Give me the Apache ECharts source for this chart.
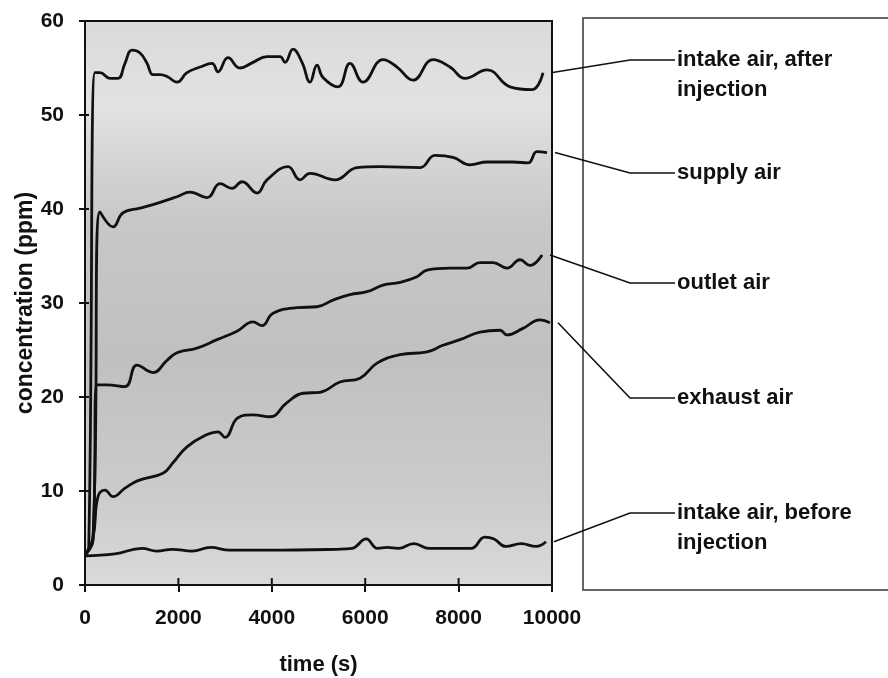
<!DOCTYPE html>
<html>
<head>
<meta charset="utf-8">
<script src="https://cdn.jsdelivr.net/npm/echarts@6/dist/echarts.min.js"></script>
<style>
  html, body { margin: 0; padding: 0; background: #ffffff; }
  #chart { width: 888px; height: 678px; }
</style>
</head>
<body>
<div id="chart"></div>
<script>
// ---- data (time in s, concentration in ppm) ----
const xTicks = [0, 2000, 4000, 6000, 8000, 10000];
const yTicks = [0, 10, 20, 30, 40, 50, 60];

const seriesNames = [
  'intake air, after\ninjection',
  'supply air',
  'outlet air',
  'exhaust air',
  'intake air, before\ninjection'
];

const intakeAfterT = [0, 80, 214, 321, 535, 707, 856, 1006, 1178, 1328, 1456, 1606, 1756, 1970, 2184, 2463, 2720, 2848, 3062, 3319, 3597, 3897, 4175, 4283, 4454, 4647, 4818, 4968, 5096, 5418, 5675, 5953, 6381, 6681, 7024, 7452, 7816, 8137, 8608, 9101, 9572, 9807];
const intakeAfterV = [3.2, 4.0, 54.5, 54.5, 53.9, 53.9, 55.5, 56.9, 56.6, 55.5, 54.3, 54.3, 54.1, 53.5, 54.5, 55.1, 55.5, 54.6, 56.1, 55.0, 55.6, 56.2, 56.2, 55.6, 57.0, 55.6, 53.5, 55.3, 54.0, 53.0, 55.5, 53.5, 55.9, 55.1, 53.7, 55.9, 55.1, 53.9, 54.8, 53.0, 52.7, 54.5];

const supplyT = [0, 170, 321, 600, 814, 1178, 1542, 1970, 2248, 2612, 2891, 3148, 3362, 3683, 3897, 4347, 4604, 4818, 5353, 5824, 6317, 7173, 7495, 7880, 8244, 8608, 9165, 9486, 9679, 9893];
const supplyV = [3.2, 4.8, 39.7, 38.1, 39.6, 40.1, 40.6, 41.3, 41.8, 41.2, 42.7, 42.2, 42.9, 41.7, 43.1, 44.5, 43.1, 43.8, 43.1, 44.4, 44.5, 44.4, 45.7, 45.5, 44.7, 45.0, 45.0, 44.9, 46.1, 46.0];

const outletT = [0, 170, 257, 471, 856, 1113, 1456, 1756, 1970, 2398, 2827, 3255, 3597, 3790, 4026, 4540, 4968, 5310, 5675, 6039, 6381, 6745, 7109, 7323, 7816, 8180, 8458, 8737, 9036, 9315, 9529, 9786];
const outletV = [3.2, 4.8, 21.3, 21.3, 21.1, 23.4, 22.6, 23.9, 24.7, 25.2, 26.1, 27.0, 28.0, 27.6, 28.9, 29.5, 29.6, 30.3, 30.9, 31.2, 31.9, 32.2, 32.8, 33.5, 33.7, 33.7, 34.3, 34.3, 33.7, 34.6, 34.0, 35.1];

const exhaustT = [0, 170, 278, 428, 600, 856, 1135, 1670, 1884, 2184, 2612, 2848, 2998, 3276, 3597, 3961, 4325, 4668, 5032, 5460, 5889, 6253, 6745, 7323, 7666, 8030, 8458, 8887, 9036, 9379, 9743, 9957];
const exhaustV = [3.2, 5.0, 9.4, 10.1, 9.4, 10.3, 11.1, 11.9, 13.0, 14.7, 16.0, 16.3, 15.7, 17.8, 18.1, 17.9, 19.4, 20.4, 20.5, 21.6, 22.0, 23.6, 24.5, 24.8, 25.5, 26.1, 26.9, 27.1, 26.6, 27.3, 28.2, 27.9];

const intakeBeforeT = [0, 640, 1220, 1540, 1870, 2290, 2690, 3100, 3920, 5400, 5720, 6020, 6260, 6470, 6710, 7040, 7370, 8270, 8560, 8760, 9010, 9340, 9660, 9870];
const intakeBeforeV = [3.1, 3.3, 3.9, 3.6, 3.8, 3.6, 4.0, 3.7, 3.7, 3.8, 3.9, 4.9, 3.9, 4.0, 3.9, 4.4, 3.9, 3.9, 5.1, 4.9, 4.1, 4.4, 4.1, 4.6];

const seriesT = [intakeAfterT, supplyT, outletT, exhaustT, intakeBeforeT];
const seriesV = [intakeAfterV, supplyV, outletV, exhaustV, intakeBeforeV];

// ---- layout / style ----
const FONT = '"Liberation Sans", Arial, sans-serif';
const INK = '#111111';
const labelX = 677;
const elbowX = 630;
const labelY = [60, 173, 283, 398, 513];

function pairs(t, v) { return t.map((x, i) => [x, v[i]]); }

const chart = echarts.init(document.getElementById('chart'), null, { renderer: 'canvas' });

const baseAxisLabel = { color: INK, fontFamily: FONT, fontWeight: 'bold', fontSize: 21, formatter: (val) => String(val) };

const option = {
  animation: false,
  backgroundColor: '#ffffff',
  grid: {
    left: 85, right: 336, top: 21, bottom: 93,
    containLabel: false,
    outerBoundsMode: 'none',
    show: true,
    borderColor: INK,
    borderWidth: 2,
    backgroundColor: {
      type: 'linear', x: 0, y: 0, x2: 0, y2: 1,
      colorStops: [
        { offset: 0, color: '#dadada' },
        { offset: 0.15, color: '#e2e2e2' },
        { offset: 0.35, color: '#c8c8c8' },
        { offset: 0.6, color: '#c0c0c0' },
        { offset: 0.85, color: '#cccccc' },
        { offset: 1, color: '#dadada' }
      ]
    }
  },
  xAxis: {
    type: 'value', min: xTicks[0], max: xTicks[xTicks.length - 1], interval: 2000,
    position: 'bottom',
    name: 'time (s)', nameLocation: 'middle', nameGap: 69, nameMoveOverlap: false,
    nameTextStyle: { color: INK, fontFamily: FONT, fontWeight: 'bold', fontSize: 22 },
    axisLine: { onZero: false, lineStyle: { color: INK, width: 2 } },
    axisTick: { show: true, inside: false, length: 7, lineStyle: { color: INK, width: 2 } },
    axisLabel: Object.assign({ margin: 23 }, baseAxisLabel),
    splitLine: { show: false }
  },
  yAxis: {
    type: 'value', min: yTicks[0], max: yTicks[yTicks.length - 1], interval: 10,
    position: 'left',
    name: 'concentration (ppm)', nameLocation: 'middle', nameGap: 48, nameMoveOverlap: false,
    nameTextStyle: { color: INK, fontFamily: FONT, fontWeight: 'bold', fontSize: 23 },
    axisLine: { onZero: false, lineStyle: { color: INK, width: 2 } },
    axisTick: { show: true, inside: false, length: 6, lineStyle: { color: INK, width: 2 } },
    axisLabel: Object.assign({ margin: 21 }, baseAxisLabel),
    splitLine: { show: false }
  },
  series: seriesNames.map((name, i) => ({
    name: name,
    type: 'line',
    data: pairs(seriesT[i], seriesV[i]),
    showSymbol: false,
    smooth: 0.45,
    lineStyle: { color: INK, width: 2.8 },
    z: 3
  }))
};

chart.setOption(option);

// ---- annotation panel with leader lines ----
const graphics = [{
  type: 'rect',
  shape: { x: 583, y: 18, width: 330, height: 572 },
  style: { fill: '#ffffff', stroke: '#333333', lineWidth: 1.5 },
  z: 1
}];

seriesNames.forEach((name, i) => {
  const t = seriesT[i], v = seriesV[i];
  const end = chart.convertToPixel({ xAxisIndex: 0, yAxisIndex: 0 }, [t[t.length - 1], v[v.length - 1]]);
  const ly = labelY[i];
  graphics.push({
    type: 'polyline',
    shape: { points: [[end[0] + 8, end[1]], [elbowX, ly], [labelX - 2, ly]] },
    style: { stroke: INK, lineWidth: 1.6, fill: null },
    z: 5
  });
  graphics.push({
    type: 'text',
    x: labelX, y: ly - 15,
    style: {
      text: name,
      fill: INK,
      font: 'bold 22px ' + FONT,
      lineHeight: 30,
      verticalAlign: 'top',
      align: 'left'
    },
    z: 5
  });
});

// short inward tick marks (the original ticks cross the axis line),
// placed at the axis tick values through the chart's own scale
xTicks.forEach((tv) => {
  const p = chart.convertToPixel({ xAxisIndex: 0, yAxisIndex: 0 }, [tv, yTicks[0]]);
  graphics.push({
    type: 'line',
    shape: { x1: p[0], y1: p[1], x2: p[0], y2: p[1] - 7 },
    style: { stroke: INK, lineWidth: 2 },
    z: 6
  });
});
yTicks.forEach((tv) => {
  const p = chart.convertToPixel({ xAxisIndex: 0, yAxisIndex: 0 }, [xTicks[0], tv]);
  graphics.push({
    type: 'line',
    shape: { x1: p[0], y1: p[1], x2: p[0] + 4, y2: p[1] },
    style: { stroke: INK, lineWidth: 2 },
    z: 6
  });
});

chart.setOption({ graphic: graphics });
</script>
</body>
</html>
